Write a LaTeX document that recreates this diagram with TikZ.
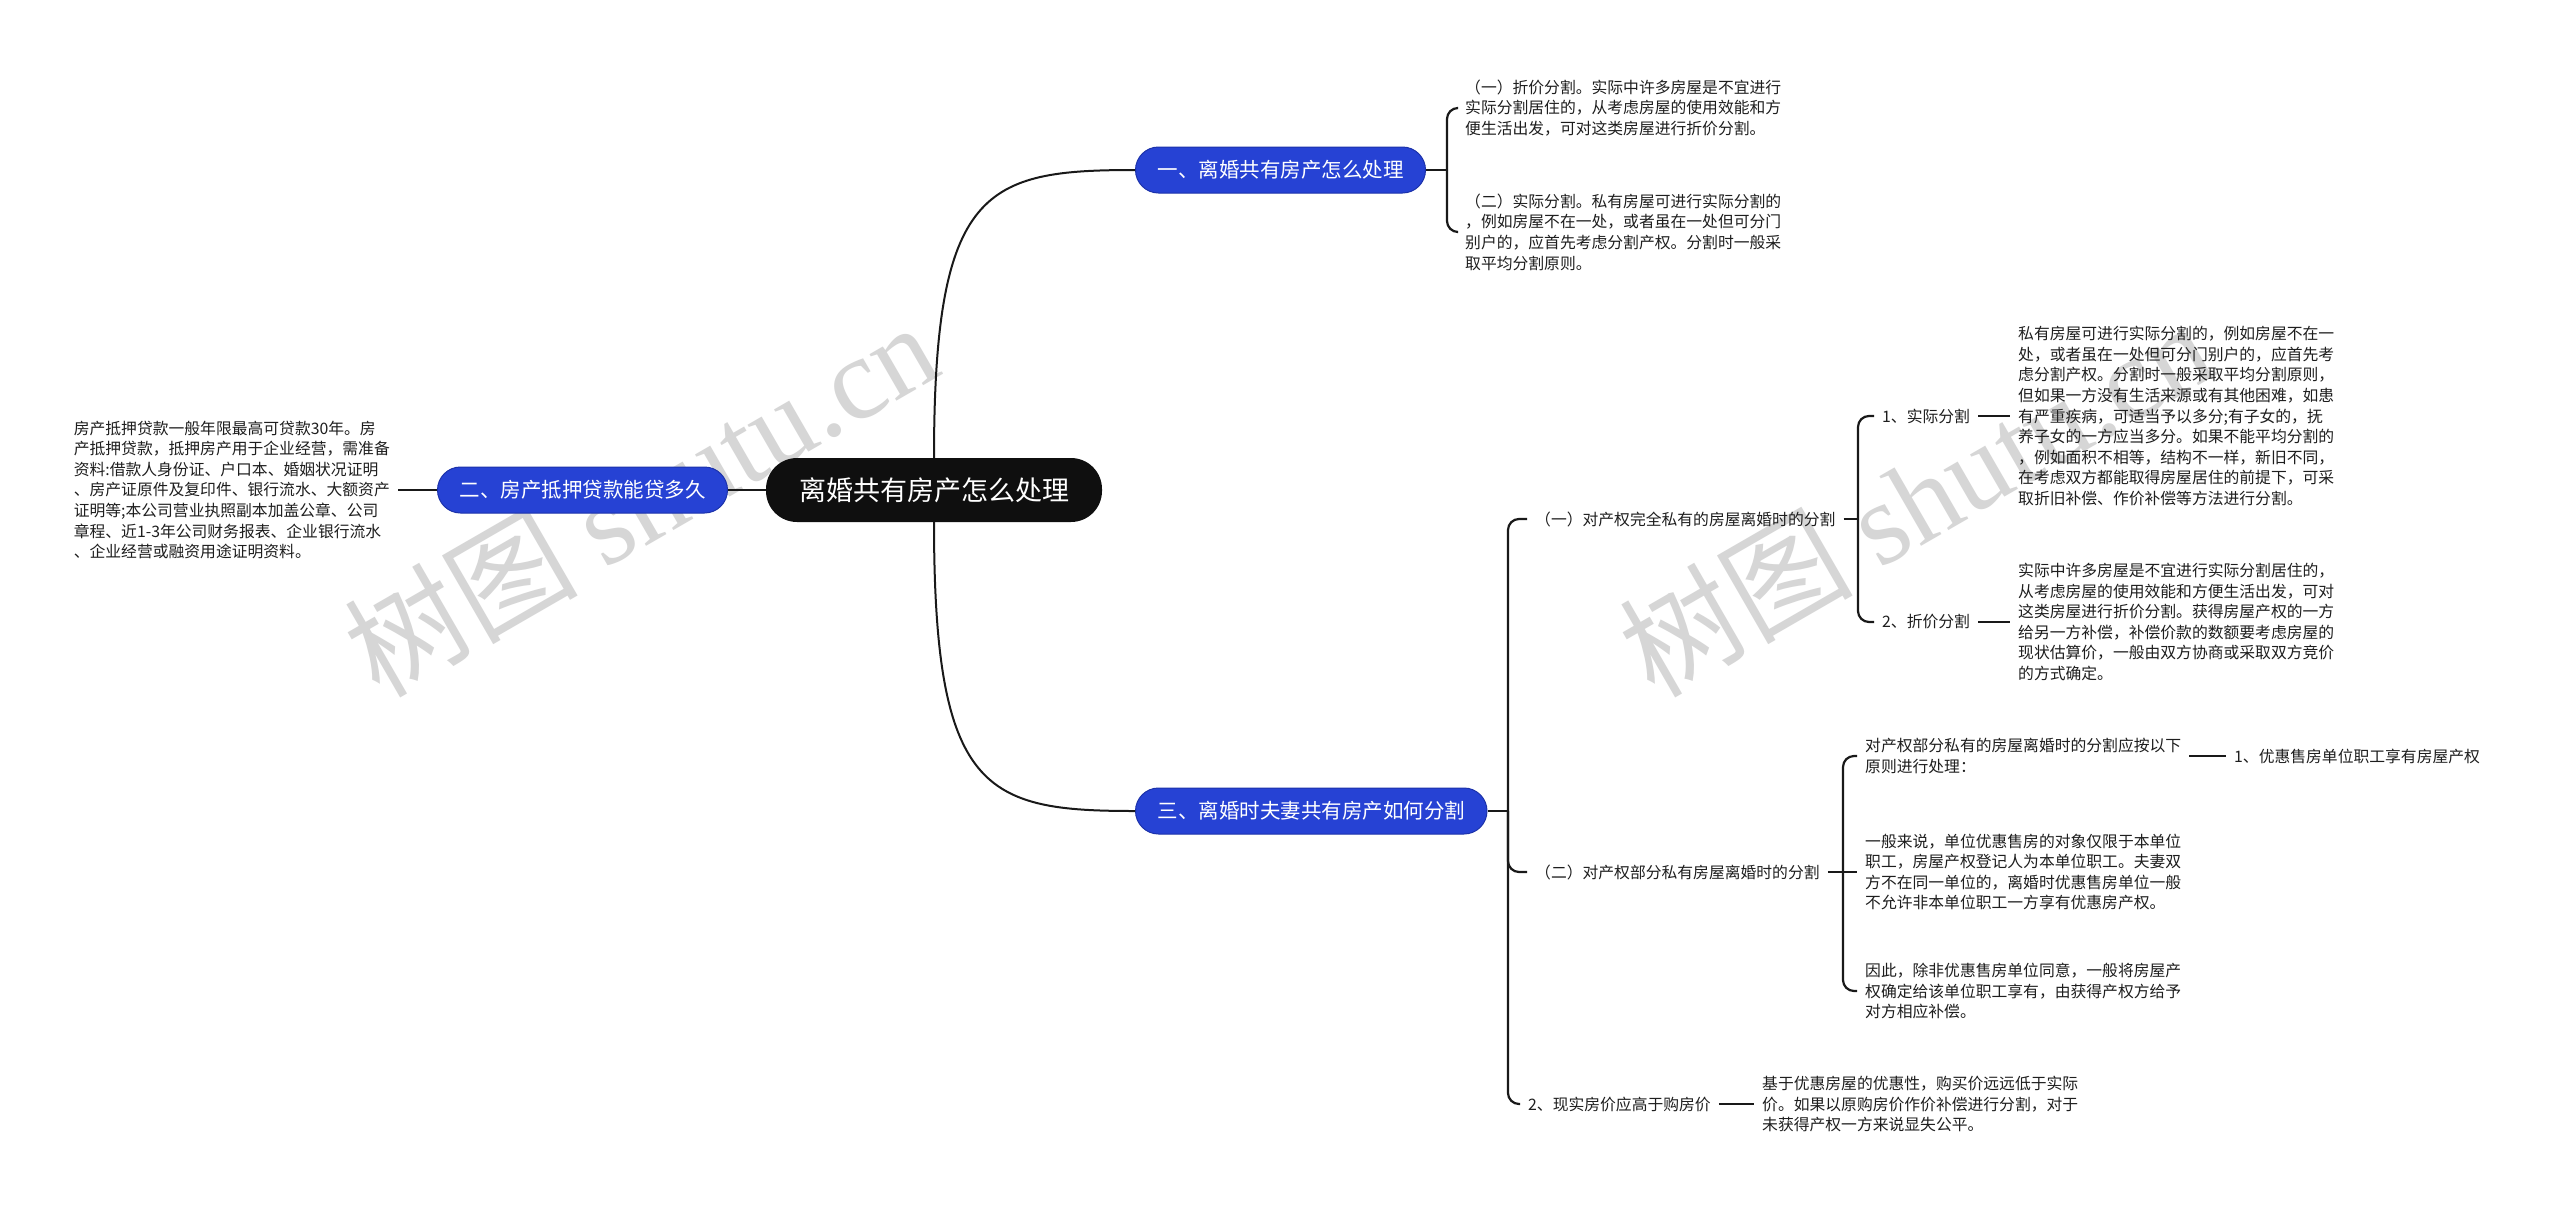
\documentclass[tikz,border=0pt]{standalone}
\usepackage{fontspec}
\setmainfont{Noto Sans CJK SC}
\newfontfamily\wmlatin{Liberation Serif}
\usetikzlibrary{calc}
\definecolor{bluebr}{RGB}{38,66,212}
\definecolor{bluedk}{RGB}{28,50,170}
\definecolor{lineC}{RGB}{25,25,25}
\definecolor{txtC}{RGB}{30,30,30}
\begin{document}
\begin{tikzpicture}[x=1pt,y=-1pt,
  conn/.style={draw=lineC, line width=2pt},
  brk/.style={draw=lineC, line width=2.2pt, rounded corners=11pt},
  rootbox/.style={fill=black!94, text=white, rounded corners=31pt, minimum height=64pt, inner xsep=33pt, inner ysep=0pt, font=\fontsize{27}{30}\selectfont},
  brbox/.style={fill=bluebr, draw=bluedk, line width=1pt, text=white, rounded corners=23pt, minimum height=46pt, inner xsep=22pt, inner ysep=0pt, font=\fontsize{20.5}{24}\selectfont},
  leaf/.style={align=left, inner xsep=8pt, inner ysep=2pt, text=txtC, font=\fontsize{15.8}{20.6}\selectfont},
  wm/.style={text=black!16, rotate=30, inner sep=0pt, font=\fontsize{117}{125}\selectfont}
]
\useasboundingbox (0,0) rectangle (2560,1211);
\fill[white] (0,0) rectangle (2560,1211);

% watermarks
\node[wm] (wm1) at (640,498) {树图 {\wmlatin shutu.cn}};
\node[wm] (wm2) at (1915,498) {树图 {\wmlatin shutu.cn}};

% main nodes
\node[rootbox] (root) at (934,490) {离婚共有房产怎么处理};
\node[brbox, anchor=west] (b1) at (1135,170) {一、离婚共有房产怎么处理};
\node[brbox, anchor=east] (b2) at (728,490) {二、房产抵押贷款能贷多久};
\node[brbox, anchor=west] (b3) at (1135,811) {三、离婚时夫妻共有房产如何分割};

% branch 1 leaves
\node[leaf, anchor=west] (t11) at (1457,108) {（一）折价分割。实际中许多房屋是不宜进行\\实际分割居住的，从考虑房屋的使用效能和方\\便生活出发，可对这类房屋进行折价分割。};
\node[leaf, anchor=west] (t12) at (1457,232) {（二）实际分割。私有房屋可进行实际分割的\\，例如房屋不在一处，或者虽在一处但可分门\\别户的，应首先考虑分割产权。分割时一般采\\取平均分割原则。};

% branch 2 leaf
\node[leaf, anchor=east] (t21) at (398,490) {房产抵押贷款一般年限最高可贷款30年。房\\产抵押贷款，抵押房产用于企业经营，需准备\\资料:借款人身份证、户口本、婚姻状况证明\\、房产证原件及复印件、银行流水、大额资产\\证明等;本公司营业执照副本加盖公章、公司\\章程、近1-3年公司财务报表、企业银行流水\\、企业经营或融资用途证明资料。};

% branch 3
\node[leaf, anchor=west] (c31) at (1527,519) {（一）对产权完全私有的房屋离婚时的分割};
\node[leaf, anchor=west] (c32) at (1527,872) {（二）对产权部分私有房屋离婚时的分割};
\node[leaf, anchor=west] (c33) at (1520,1104) {2、现实房价应高于购房价};

\node[leaf, anchor=west] (s1) at (1874,416) {1、实际分割};
\node[leaf, anchor=west] (s2) at (1874,622) {2、折价分割};
\node[leaf, anchor=west] (s1t) at (2010,416) {私有房屋可进行实际分割的，例如房屋不在一\\处，或者虽在一处但可分门别户的，应首先考\\虑分割产权。分割时一般采取平均分割原则，\\但如果一方没有生活来源或有其他困难，如患\\有严重疾病，可适当予以多分;有子女的，抚\\养子女的一方应当多分。如果不能平均分割的\\，例如面积不相等，结构不一样，新旧不同，\\在考虑双方都能取得房屋居住的前提下，可采\\取折旧补偿、作价补偿等方法进行分割。};
\node[leaf, anchor=west] (s2t) at (2010,622) {实际中许多房屋是不宜进行实际分割居住的，\\从考虑房屋的使用效能和方便生活出发，可对\\这类房屋进行折价分割。获得房屋产权的一方\\给另一方补偿，补偿价款的数额要考虑房屋的\\现状估算价，一般由双方协商或采取双方竞价\\的方式确定。};

\node[leaf, anchor=west] (p1) at (1857,756) {对产权部分私有的房屋离婚时的分割应按以下\\原则进行处理：};
\node[leaf, anchor=west] (p2) at (1857,872) {一般来说，单位优惠售房的对象仅限于本单位\\职工，房屋产权登记人为本单位职工。夫妻双\\方不在同一单位的，离婚时优惠售房单位一般\\不允许非本单位职工一方享有优惠房产权。};
\node[leaf, anchor=west] (p3) at (1857,991) {因此，除非优惠售房单位同意，一般将房屋产\\权确定给该单位职工享有，由获得产权方给予\\对方相应补偿。};
\node[leaf, anchor=west] (q1) at (2226,756) {1、优惠售房单位职工享有房屋产权};

\node[leaf, anchor=west] (c33t) at (1754,1104) {基于优惠房屋的优惠性，购买价远远低于实际\\价。如果以原购房价作价补偿进行分割，对于\\未获得产权一方来说显失公平。};

% junctions
\coordinate (j1) at (1447,170);
\coordinate (j3) at (1508,811);
\coordinate (j31) at (1858,519);
\coordinate (j32) at (1843,872);

% connectors from root
\draw[conn] (root.north) .. controls +(0,-270) and +(-150,0) .. (b1.west);
\draw[conn] (root.south) .. controls +(0,270) and +(-150,0) .. (b3.west);
\draw[conn] (root.west) -- (b2.east);

% branch 1 bracket
\draw[conn] (b1.east) -- (j1);
\draw[brk] (j1) |- (t11.west);
\draw[brk] (j1) |- (t12.west);

% branch 2
\draw[conn] (b2.west) -- (t21.east);

% branch 3 bracket
\draw[conn] (b3.east) -- (j3);
\draw[brk] (j3) |- (c31.west);
\draw[brk] (j3) |- (c32.west);
\draw[brk] (j3) |- (c33.west);

% c31 bracket
\draw[conn] (c31.east) -- (j31);
\draw[brk] (j31) |- (s1.west);
\draw[brk] (j31) |- (s2.west);
\draw[conn] (s1.east) -- (s1t.west);
\draw[conn] (s2.east) -- (s2t.west);

% c32 bracket
\draw[conn] (c32.east) -- (j32);
\draw[brk] (j32) |- (p1.west);
\draw[conn] (j32) -- (p2.west);
\draw[brk] (j32) |- (p3.west);
\draw[conn] (p1.east) -- (q1.west);

% c33
\draw[conn] (c33.east) -- (c33t.west);
\end{tikzpicture}
\end{document}
